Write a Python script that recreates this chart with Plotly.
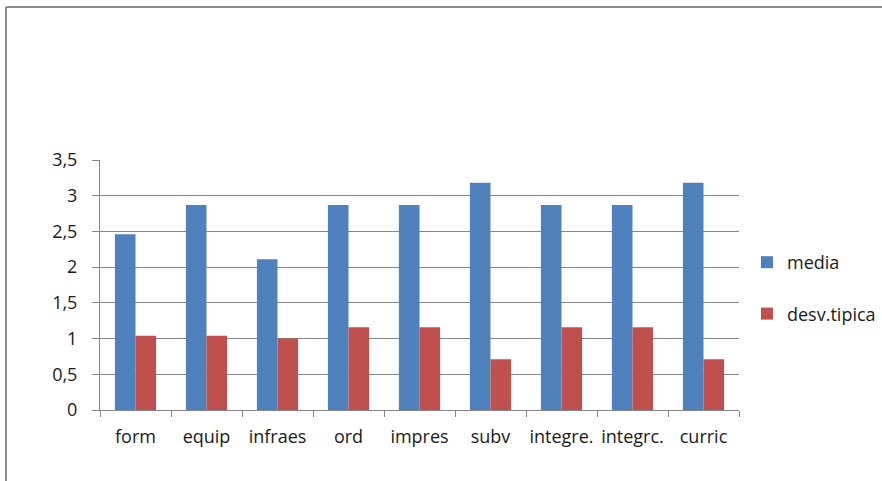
import plotly.graph_objects as go

categories = ["form", "equip", "infraes", "ord", "impres", "subv", "integre.", "integrc.", "curric"]
media = [2.46, 2.87, 2.11, 2.87, 2.87, 3.18, 2.87, 2.87, 3.18]
desv_tipica = [1.04, 1.04, 1.00, 1.16, 1.16, 0.71, 1.16, 1.16, 0.71]
y_ticks = [0, 0.5, 1, 1.5, 2, 2.5, 3, 3.5]

W, H = 882, 481
L, R, T, B = 100, 143, 160, 71
pw, ph = W - L - R, H - T - B

FONT = dict(family="'Open Sans', Lato, sans-serif", size=18, color="#1a1a1a")
GRID = "#868686"

fig = go.Figure()
fig.add_trace(go.Bar(name="media", x=categories, y=media, marker_color="#4F81BD",
                     marker_line_width=0, legendgroup="a"))
fig.add_trace(go.Bar(name="desv.tipica", x=categories, y=desv_tipica, marker_color="#C0504D",
                     marker_line_width=0, legendgroup="b"))


def px_x(p):
    return (p - L) / pw


def px_y(p):
    return (H - B - p) / ph


# outer chart frame (left and top edges)
fig.add_shape(type="line", xref="paper", yref="paper",
              x0=px_x(6), x1=px_x(W + 5), y0=px_y(7), y1=px_y(7),
              line=dict(color="#8a8a8a", width=2))
fig.add_shape(type="line", xref="paper", yref="paper",
              x0=px_x(6), x1=px_x(6), y0=px_y(7), y1=px_y(H + 5),
              line=dict(color="#8a8a8a", width=2))

fig.update_layout(
    width=W, height=H,
    margin=dict(l=L, r=R, t=T, b=B, autoexpand=False),
    paper_bgcolor="white", plot_bgcolor="white",
    separators=", ",
    barmode="group", bargap=0.42, bargroupgap=0,
    font=FONT,
    legend=dict(x=px_x(747), y=px_y(244), xanchor="left", yanchor="top",
                tracegroupgap=25, traceorder="grouped", font=FONT,
                bgcolor="rgba(0,0,0,0)"),
    xaxis=dict(showline=True, linecolor=GRID, linewidth=1, ticks="outside",
               tickson="boundaries", ticklen=6, tickcolor=GRID, showgrid=False,
               tickangle=0, ticklabelstandoff=10, tickfont=FONT),
    yaxis=dict(range=[0, 3.5], tickvals=y_ticks, showline=True, linecolor=GRID,
               linewidth=1, ticks="outside", ticklen=7, tickcolor=GRID,
               showgrid=True, gridcolor=GRID, gridwidth=1, zeroline=False,
               ticklabelstandoff=11, tickfont=FONT),
)

fig.write_html("out.html")
